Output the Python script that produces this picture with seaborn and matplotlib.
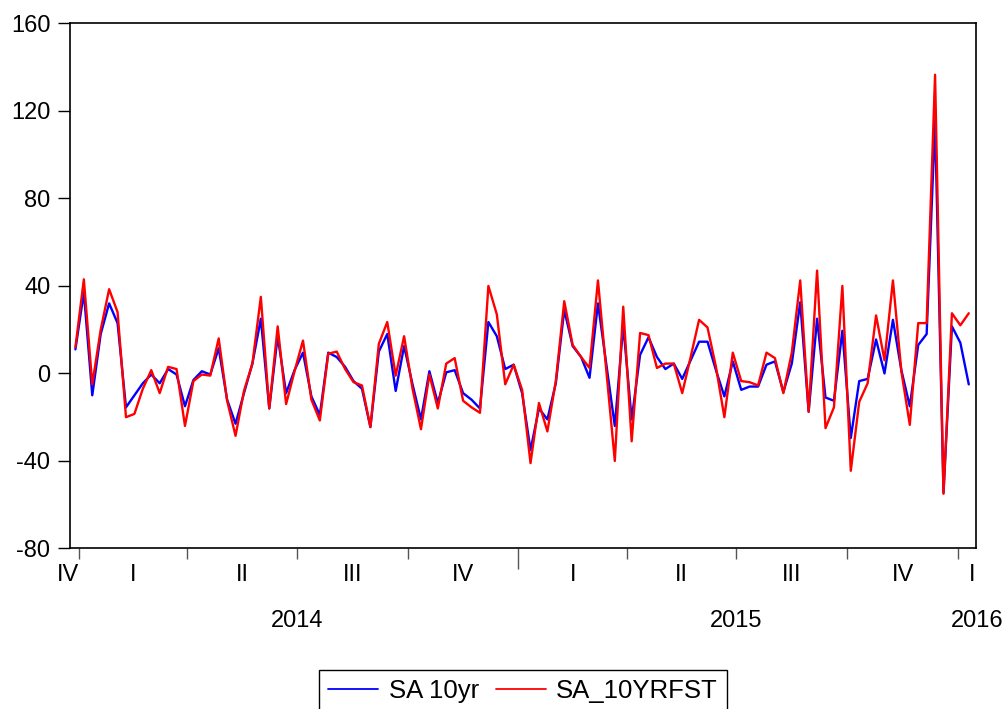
import pandas as pd
import matplotlib.pyplot as plt
import matplotlib.dates as mdates
import seaborn as sns

# weekly observations, end of 2013 to early 2016
start_date = '2013-12-29'
n_weeks = 107

sa_10yr = [11, 37, -10, 18, 32, 23, -15.5, -10, -4.5, -0.5,
           -4.5, 2, -0.5, -15, -3, 1, -0.5, 11.5, -12, -23,
           -9, 4.5, 25, -16, 17, -9, 1.5, 9.5, -10.5, -19,
           9.5, 7.5, 3, -3.5, -7, -24.5, 10, 18, -8, 12.5,
           -5, -21, 1, -13.5, 0.5, 1.5, -9, -12, -16, 23.5,
           17, 2, 4, -9, -35, -16, -21, -4.5, 29, 12.5,
           7.5, -2, 32, 4, -24, 22, -21, 8.5, 16.5, 7.5,
           2, 4.5, -2.5, 6, 14.5, 14.5, 1.5, -10.5, 5.5, -7.5,
           -6, -6, 4, 5.5, -8.5, 4.5, 32.5, -17.5, 25, -11,
           -12.5, 19.5, -29.5, -3.5, -2.5, 15.5, 0, 24.5, 1.5, -15,
           13, 18, 115.5, -54.5, 21.5, 14, -5]

sa_10yrfst = [12, 43, -5, 20, 38.5, 28, -20, -18.5, -7, 1.5,
              -9, 3, 2, -24, -3.5, -0.5, -1, 16, -12.5, -28.5,
              -8, 4.5, 35, -16, 21.5, -14, 1, 15, -12, -21.5,
              9, 10, 2, -4, -5.5, -24.5, 13.5, 23.5, -1, 17,
              -7, -25.5, -0.5, -16, 4.5, 7, -12.5, -15.5, -18, 40,
              27, -5, 4, -7.5, -41, -13.5, -26.5, -3.5, 33, 13,
              7.5, 2.5, 42.5, 1, -40, 30.5, -31, 18.5, 17.5, 2.5,
              4.5, 4.5, -9, 7.5, 24.5, 21, 3, -20, 9.5, -3.5,
              -4, -5.5, 9.5, 7, -9, 9.5, 42.5, -17.5, 47, -25,
              -15.5, 40, -44.5, -13, -4.5, 26.5, 6, 42.5, 1, -23.5,
              23, 23, 136.5, -55, 27.5, 22, 27.5]

series_names = ['SA 10yr', 'SA_10YRFST']
quarter_names = ['IV', 'I', 'II', 'III', 'IV', 'I', 'II', 'III', 'IV', 'I']
year_names = ['2014', '2015', '2016']

dates = pd.date_range(start_date, periods=n_weeks, freq='7D')
df = pd.DataFrame({'date': list(dates) * 2,
                   'value': sa_10yr + sa_10yrfst,
                   'series': [series_names[0]] * n_weeks + [series_names[1]] * n_weeks})

sns.set_style('ticks')
plt.rcParams['font.family'] = ['Liberation Sans', 'DejaVu Sans']
plt.rcParams['font.size'] = 17
plt.rcParams['axes.unicode_minus'] = False
plt.rcParams['text.color'] = 'black'
plt.rcParams['xtick.labelcolor'] = 'black'
plt.rcParams['ytick.labelcolor'] = 'black'

fig = plt.figure(figsize=(10.05, 7.09), dpi=100)
ax = fig.add_axes([0.0697, 0.2264, 0.9011, 0.7407])

sns.lineplot(data=df, x='date', y='value', hue='series',
             palette=['#0000ff', '#ff0000'], linewidth=1.7, ax=ax, legend=False)

ax.set_xlim(pd.Timestamp('2013-12-24 13:00'), pd.Timestamp('2016-01-15 17:00'))
ax.set_ylim(-80, 160)
ax.set_yticks(range(-80, 161, 40))
ax.set_xlabel('')
ax.set_ylabel('')

# quarter boundaries as ticks, labels drawn between them
q_starts = pd.date_range('2014-01-01', '2016-01-01', freq='QS')
ax.set_xticks(q_starts)
ax.set_xticklabels([''] * len(q_starts))
ax.tick_params(axis='y', direction='out', length=8.6, width=1, pad=5.5, colors='black', labelsize=17)
ax.tick_params(axis='x', direction='out', length=8, width=1, color='#555555')
for t, d in zip(ax.xaxis.get_major_ticks(), q_starts):
    if d == pd.Timestamp('2015-01-01'):
        t.tick1line.set_markersize(15)

for s in ax.spines.values():
    s.set_color('black')
    s.set_linewidth(1.2)

trans = ax.get_xaxis_transform()
q_pos = [pd.Timestamp('2013-12-23')]
for a, b in zip(q_starts[:-1], q_starts[1:]):
    q_pos.append(a + (b - a) / 2)
q_pos.append(pd.Timestamp('2016-01-13'))
for p, lab in zip(q_pos, quarter_names):
    ax.text(mdates.date2num(p), -0.0505, lab, transform=trans,
            ha='center', va='center', fontsize=17, clip_on=False)

y_pos = [pd.Timestamp('2014-07-01'), pd.Timestamp('2015-07-01'), pd.Timestamp('2016-01-17')]
for p, lab in zip(y_pos, year_names):
    ax.text(mdates.date2num(p), -0.138, lab, transform=trans,
            ha='center', va='center', fontsize=17, clip_on=False)

handles = [plt.Line2D([], [], color='#0000ff', lw=1.3),
           plt.Line2D([], [], color='#ff0000', lw=1.3)]
leg = fig.legend(handles, series_names, loc='upper center',
                 bbox_to_anchor=(0.5204, 0.0545), ncol=2, frameon=True,
                 fancybox=False, framealpha=1, edgecolor='black',
                 handlelength=1.95, handletextpad=0.4, columnspacing=0.66,
                 borderpad=0.35, borderaxespad=0, fontsize=18.5)
leg.get_frame().set_linewidth(1.0)

fig.savefig('out.png', dpi=100)
